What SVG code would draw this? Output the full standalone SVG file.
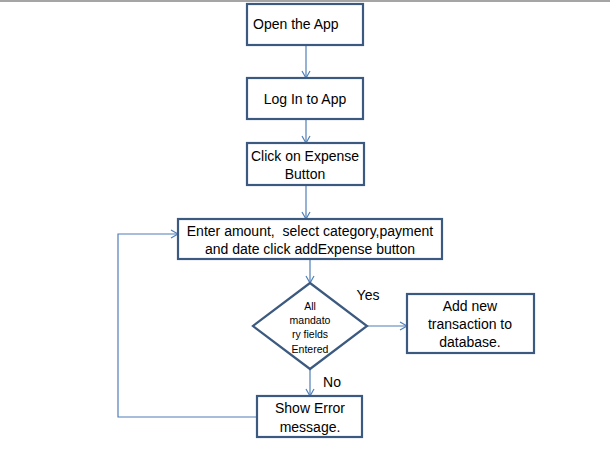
<svg xmlns="http://www.w3.org/2000/svg" width="610" height="459" viewBox="0 0 610 459">
<style>
.box{fill:#fff;stroke:#3c5a80;stroke-width:2.2}
.t{font-family:"Liberation Sans",Arial,sans-serif;font-size:14px;fill:#000;text-anchor:middle;white-space:pre}
.s{font-family:"Liberation Sans",Arial,sans-serif;font-size:10.5px;fill:#000;text-anchor:middle}
.c{fill:none;stroke:#4f7fb8;stroke-width:1.2}
</style>
<defs>
<marker id="a" markerWidth="10" markerHeight="10" refX="8" refY="5" orient="auto" markerUnits="userSpaceOnUse">
<path d="M1,1 L8,5 L1,9" fill="none" stroke="#4f7fb8" stroke-width="1.2"/>
</marker>
</defs>
<rect x="0" y="0" width="610" height="459" fill="#fff"/>
<rect x="0" y="0" width="610" height="2" fill="#a5a5a5"/>
<g id="connectors">
<path class="c" d="M306,45 V78" marker-end="url(#a)"/>
<path class="c" d="M306,119 V143" marker-end="url(#a)"/>
<path class="c" d="M306,185 V219" marker-end="url(#a)"/>
<path class="c" d="M310,259 V283" marker-end="url(#a)"/>
<path class="c" d="M367,326 H407" marker-end="url(#a)"/>
<path class="c" d="M310,369 V396" marker-end="url(#a)"/>
<path class="c" d="M257,417 H118 V234 H178" marker-end="url(#a)"/>
<text class="t" x="368" y="300">Yes</text>
<text class="t" x="332" y="387">No</text>
</g>
<g id="open">
<rect class="box" x="247" y="4" width="116" height="41"/>
<text class="t" x="253" y="29" style="text-anchor:start">Open the App</text>
</g>
<g id="login">
<rect class="box" x="247" y="78" width="116" height="41"/>
<text class="t" x="305" y="104">Log In to App</text>
</g>
<g id="click">
<rect class="box" x="247" y="143" width="117" height="42"/>
<text class="t" x="305" y="161">Click on Expense</text>
<text class="t" x="305" y="179">Button</text>
</g>
<g id="enter">
<rect class="box" x="178" y="219" width="264" height="40"/>
<text class="t" x="310" y="236" xml:space="preserve">Enter amount,  select category,payment</text>
<text class="t" x="310" y="254">and date click addExpense button</text>
</g>
<g id="decision">
<polygon class="box" points="310,283 367,326 310,369 253,326"/>
<text class="s" x="310" y="310">All</text>
<text class="s" x="310" y="324">mandato</text>
<text class="s" x="310" y="338">ry fields</text>
<text class="s" x="310" y="353">Entered</text>
</g>
<g id="add">
<rect class="box" x="407" y="294" width="127" height="59"/>
<text class="t" x="470" y="311">Add new</text>
<text class="t" x="470" y="329">transaction to</text>
<text class="t" x="470" y="347">database.</text>
</g>
<g id="error">
<rect class="box" x="257" y="396" width="105" height="41"/>
<text class="t" x="310" y="413">Show Error</text>
<text class="t" x="310" y="432">message.</text>
</g>
</svg>
